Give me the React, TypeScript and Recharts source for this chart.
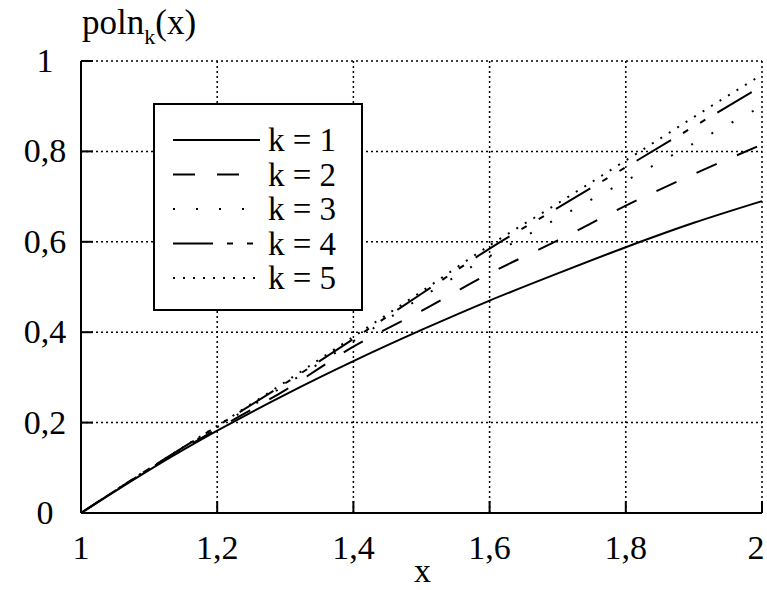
import { LineChart, Line, XAxis, YAxis, CartesianGrid, Legend } from 'recharts'

// sample points along x, one value per point for each polynomial
const xValues = [1, 1.1, 1.2, 1.3, 1.4, 1.5, 1.6, 1.7, 1.8, 1.9, 2]
const poln1 = [0, 0.095, 0.182, 0.262, 0.336, 0.405, 0.47, 0.53, 0.588, 0.642, 0.69]
const poln2 = [0, 0.097, 0.186, 0.272, 0.368, 0.447, 0.53, 0.603, 0.68, 0.75, 0.815]
const poln3 = [0, 0.098, 0.19, 0.283, 0.38, 0.477, 0.568, 0.652, 0.735, 0.818, 0.9]
const poln4 = [0, 0.098, 0.192, 0.287, 0.385, 0.485, 0.585, 0.675, 0.765, 0.855, 0.945]
const poln5 = [0, 0.098, 0.193, 0.29, 0.39, 0.49, 0.592, 0.685, 0.78, 0.876, 0.97]

const xTicks = [1, 1.2, 1.4, 1.6, 1.8, 2]
const yTicks = [0, 0.2, 0.4, 0.6, 0.8, 1]
const seriesNames = ['k = 1', 'k = 2', 'k = 3', 'k = 4', 'k = 5']

const data = xValues.map((x, i) => ({
  x,
  k1: poln1[i],
  k2: poln2[i],
  k3: poln3[i],
  k4: poln4[i],
  k5: poln5[i],
}))

const series = [
  { key: 'k1', name: seriesNames[0], dash: undefined },
  { key: 'k2', name: seriesNames[1], dash: '22 22' },
  { key: 'k3', name: seriesNames[2], dash: '2 21' },
  { key: 'k4', name: seriesNames[3], dash: '40 14 6 14 6 14' },
  { key: 'k5', name: seriesNames[4], dash: '2 8' },
]

const FONT = '"Liberation Serif", "Times New Roman", serif'
const textStyle = { fontFamily: FONT, fontSize: 34, fill: '#000' }
const fmt = (v: number) => String(v).replace('.', ',')

const BottomTick = ({ x, y, payload }: any) => (
  <g>
    <line x1={x} y1={y} x2={x} y2={y - 12} stroke="#000" strokeWidth={2} />
    <text x={Math.min(x, 756)} y={y + 46} textAnchor="middle" style={textStyle}>
      {fmt(payload.value)}
    </text>
  </g>
)

const TopTick = ({ x, y }: any) => (
  <line x1={x} y1={y} x2={x} y2={y + 12} stroke="#000" strokeWidth={2} />
)

const LeftTick = ({ x, y, payload }: any) => (
  <g>
    <line x1={x} y1={y} x2={x + 12} y2={y} stroke="#000" strokeWidth={2} />
    <text x={x - 36} y={y + 11} textAnchor="middle" style={textStyle}>
      {fmt(payload.value)}
    </text>
  </g>
)

const RightTick = ({ x, y }: any) => (
  <line x1={x} y1={y} x2={x - 12} y2={y} stroke="#000" strokeWidth={2} />
)

const LegendBox = () => (
  <div style={{ width: 210, height: 208, boxSizing: 'border-box', border: '2px solid #000', background: '#fff' }}>
    <svg width={206} height={204} style={{ display: 'block' }}>
      {series.map((s, i) => {
        const cy = 35 + i * 34.5
        return (
          <g key={s.key}>
            <line x1={18} y1={cy} x2={105} y2={cy} stroke="#000" strokeWidth={2} strokeDasharray={s.dash} />
            <text x={113} y={cy + 11} style={{ ...textStyle, fontSize: 33 }}>
              {s.name}
            </text>
          </g>
        )
      })}
    </svg>
  </div>
)

export default function App() {
  return (
    <div style={{ position: 'absolute', left: 0, top: 0, width: 767, height: 590, background: '#fff', fontFamily: FONT }}>
      <LineChart width={767} height={590} data={data} margin={{ top: 61, right: 5, bottom: 0, left: 0 }}>
        <CartesianGrid stroke="#000" strokeWidth={1.5} strokeDasharray="2 3" />
        <XAxis
          dataKey="x"
          type="number"
          domain={[1, 2]}
          ticks={xTicks}
          height={77}
          tickSize={0}
          tickMargin={0}
          tickLine={false}
          axisLine={{ stroke: '#000', strokeWidth: 2 }}
          tick={<BottomTick />}
          interval={0}
        />
        <XAxis
          xAxisId="top"
          orientation="top"
          dataKey="x"
          type="number"
          domain={[1, 2]}
          ticks={xTicks}
          height={0}
          tickSize={0}
          tickMargin={0}
          tickLine={false}
          axisLine={{ stroke: '#000', strokeWidth: 2 }}
          tick={<TopTick />}
          interval={0}
        />
        <YAxis
          type="number"
          domain={[0, 1]}
          ticks={yTicks}
          width={81}
          tickSize={0}
          tickMargin={0}
          tickLine={false}
          axisLine={{ stroke: '#000', strokeWidth: 2 }}
          tick={<LeftTick />}
          interval={0}
        />
        <YAxis
          yAxisId="right"
          orientation="right"
          type="number"
          domain={[0, 1]}
          ticks={yTicks}
          width={0}
          tickSize={0}
          tickMargin={0}
          tickLine={false}
          axisLine={{ stroke: '#000', strokeWidth: 2 }}
          tick={<RightTick />}
          interval={0}
        />
        <Legend
          layout="vertical"
          align="center"
          verticalAlign="middle"
          content={<LegendBox />}
          wrapperStyle={{ left: 153, top: 103, width: 210, height: 208 }}
        />
        {series.map((s) => (
          <Line
            key={s.key}
            dataKey={s.key}
            name={s.name}
            type="monotone"
            stroke="#000"
            strokeWidth={2}
            strokeDasharray={s.dash}
            dot={false}
            activeDot={false}
            isAnimationActive={false}
          />
        ))}
      </LineChart>
      <div style={{ position: 'absolute', left: 82, top: 5, fontSize: 35, lineHeight: 1, whiteSpace: 'nowrap', color: '#000' }}>
        poln<span style={{ fontSize: 22, position: 'relative', top: 10 }}>k</span>(x)
      </div>
      <div style={{ position: 'absolute', left: 414, top: 554, fontSize: 34, lineHeight: 1, color: '#000' }}>x</div>
    </div>
  )
}
